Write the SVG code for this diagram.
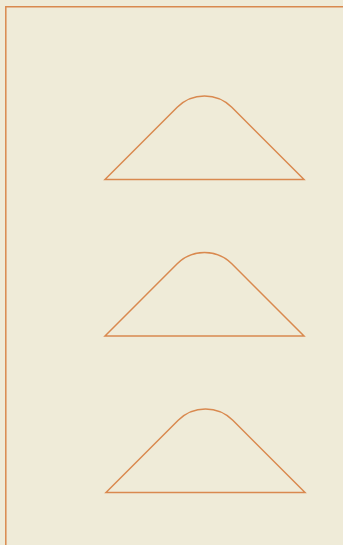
<svg xmlns="http://www.w3.org/2000/svg" width="343" height="545" viewBox="0 0 343 545">
<style>
.ln{fill:none;stroke:#d9894f;stroke-width:1.5}
</style>
<defs>
<path id="hill" d="M105,179.5 L177.2,107.3 A38.6,38.6 0 0 1 231.8,107.3 L304,179.5 Z"/>
</defs>
<rect width="343" height="545" fill="#efebd8"/>
<g id="frame">
<path class="ln" d="M5.8,545 V6.8 H343"/>
</g>
<g id="shape1"><use href="#hill" class="ln"/></g>
<g id="shape2"><use href="#hill" class="ln" transform="translate(0,156.5)"/></g>
<g id="shape3"><use href="#hill" class="ln" transform="translate(1,313)"/></g>
<g id="connectors"/>
</svg>
